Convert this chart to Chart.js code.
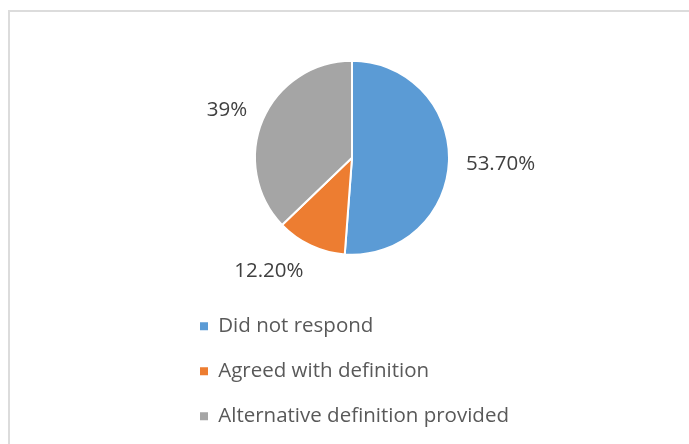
<!DOCTYPE html>
<html>
<head>
<meta charset="utf-8">
<script src="https://cdn.jsdelivr.net/npm/chart.js@4/dist/chart.umd.min.js"></script>
<style>
  html, body { margin: 0; padding: 0; background: #fff; }
  #wrap { position: relative; width: 689px; height: 444px; overflow: hidden; }
  #frame { position: absolute; left: 8px; top: 10px; right: -4px; bottom: -4px; border-left: 2px solid #dcdcdc; border-top: 2px solid #dcdcdc; }
  #chart { position: absolute; left: 0; top: 0; }
</style>
</head>
<body>
<div id="wrap">
  <div id="frame"></div>
  <canvas id="chart" width="689" height="444"></canvas>
</div>
<script>
// survey responses, in percent
const categories = ['Did not respond', 'Agreed with definition', 'Alternative definition provided'];
const values = [53.7, 12.2, 39];
const colors = ['#5B9BD5', '#ED7D31', '#A5A5A5'];

const FONT = "'Open Sans', 'Noto Sans', sans-serif";

const fmtPct = v => (Number.isInteger(v) ? String(v) : v.toFixed(2)) + '%';

// percent labels just outside each slice
const pctLabels = {
    id: 'pctLabels',
    afterDatasetsDraw(chart, args, opts) {
        const { ctx } = chart;
        const meta = chart.getDatasetMeta(0);
        const data = chart.data.datasets[0].data;
        ctx.save();
        ctx.font = `${opts.size}px ${FONT}`;
        ctx.fillStyle = opts.color;
        ctx.textBaseline = 'middle';
        meta.data.forEach((arc, i) => {
            const { x, y, startAngle, endAngle, outerRadius } =
                arc.getProps(['x', 'y', 'startAngle', 'endAngle', 'outerRadius'], true);
            const mid = (startAngle + endAngle) / 2;
            const cos = Math.cos(mid), sin = Math.sin(mid);
            const px = x + cos * (outerRadius + opts.gap);
            const py = y + sin * (outerRadius + opts.gap);
            ctx.textAlign = cos >= 0 ? 'left' : 'right';
            ctx.fillText(fmtPct(data[i]), px, py + sin * opts.size / 2 + 1.5);
        });
        ctx.restore();
    }
};

const baseLabels = Chart.overrides.pie.plugins.legend.labels.generateLabels;

new Chart(document.getElementById('chart'), {
    type: 'pie',
    data: {
        labels: categories,
        datasets: [{
            data: values,
            backgroundColor: colors,
            borderColor: '#ffffff',
            borderWidth: 2,
            radius: 97
        }]
    },
    options: {
        responsive: false,
        animation: false,
        layout: { padding: { left: 175.5, right: 160.5, top: 24, bottom: 7.5 } },
        plugins: {
            tooltip: { enabled: false },
            legend: {
                position: 'bottom',
                align: 'start',
                labels: {
                    boxWidth: 8,
                    boxHeight: 8,
                    padding: 24.5,
                    color: '#595959',
                    font: { family: FONT, size: 20.5 },
                    generateLabels: chart => baseLabels(chart).map(l => ({ ...l, lineWidth: 0 }))
                }
            },
            pctLabels: { size: 20.5, color: '#404040', gap: 17 }
        }
    },
    plugins: [pctLabels]
});
</script>
</body>
</html>
